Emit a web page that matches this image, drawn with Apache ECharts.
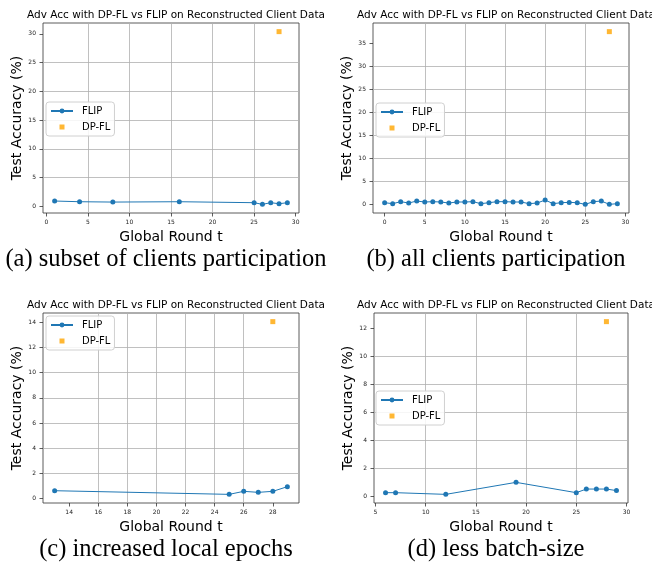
<!DOCTYPE html>
<html>
<head>
<meta charset="utf-8">
<script src="https://cdn.jsdelivr.net/npm/echarts@6/dist/echarts.min.js"></script>
<style>html,body{margin:0;padding:0;background:#fff}#c{width:652px;height:570px}</style>
</head>
<body>
<div id="c"></div>
<script>
// ---- data ----
const chartTitle = 'Adv Acc with DP-FL vs FLIP on Reconstructed Client Data';
const captions = ['(a) subset of clients participation', '(b) all clients participation', '(c) increased local epochs', '(d) less batch-size'];

const aRounds = [1, 4, 8, 16, 25, 26, 27, 28, 29];
const aFlip = [0.93, 0.81, 0.75, 0.81, 0.64, 0.35, 0.64, 0.46, 0.64];
const aDpRound = [28];
const aDp = [30.4];

const bRounds = [0,1,2,3,4,5,6,7,8,9,10,11,12,13,14,15,16,17,18,19,20,21,22,23,24,25,26,27,28,29];
const bFlip = [0.43,0.22,0.65,0.36,0.79,0.58,0.65,0.58,0.36,0.58,0.58,0.65,0.22,0.43,0.65,0.65,0.58,0.58,0.22,0.36,1.0,0.22,0.43,0.5,0.43,0.07,0.65,0.79,0.07,0.22];
const bDpRound = [28];
const bDp = [37.45];

const cRounds = [13, 25, 26, 27, 28, 29];
const cFlip = [0.63, 0.34, 0.58, 0.5, 0.58, 0.95];
const cDpRound = [28];
const cDp = [14.05];

const dRounds = [6, 7, 12, 19, 25, 26, 27, 28, 29];
const dFlip = [0.26, 0.26, 0.14, 1.0, 0.26, 0.52, 0.52, 0.52, 0.41];
const dDpRound = [28];
const dDp = [12.5];

const xTicks = [[0,5,10,15,20,25,30],[0,5,10,15,20,25,30],[14,16,18,20,22,24,26,28],[5,10,15,20,25,30]];
const yTicks = [[0,5,10,15,20,25,30],[0,5,10,15,20,25,30,35],[0,2,4,6,8,10,12,14],[0,2,4,6,8,10,12]];

// ---- layout ----
const panels = [
  {rounds: aRounds, flip: aFlip, dpR: aDpRound, dp: aDp, left: 43, top: 23, width: 256, height: 190, legTop: 102, legLeft: 46, xSplit: 6, ySplit: 7},
  {rounds: bRounds, flip: bFlip, dpR: bDpRound, dp: bDp, left: 373, top: 23, width: 256, height: 190, legTop: 103, legLeft: 376, xSplit: 6, ySplit: 8},
  {rounds: cRounds, flip: cFlip, dpR: cDpRound, dp: cDp, left: 43, top: 313, width: 256, height: 190, legTop: 316, legLeft: 46, xSplit: 8, ySplit: 7},
  {rounds: dRounds, flip: dFlip, dpR: dDpRound, dp: dDp, left: 374, top: 313, width: 254, height: 190, legTop: 391, legLeft: 376, xSplit: 5, ySplit: 7}
];
const FONT = 'DejaVu Sans';
const BLUE = '#1f77b4', ORANGE = '#ffa500';
const SQUARE_ICON = 'path://M0,0M22,6M8.5,0.5h5v5h-5z';

function range(vals) {
  const mn = Math.min(...vals), mx = Math.max(...vals);
  const m = (mx - mn) * 0.05;
  return [mn - m, mx + m];
}

const grid = [], xAxis = [], yAxis = [], series = [], title = [], legend = [], graphic = [];
panels.forEach((p, i) => {
  grid.push({left: p.left, top: p.top, width: p.width, height: p.height, show: true, borderColor: '#333', borderWidth: 0.8, backgroundColor: 'transparent', containLabel: false});
  const xr = range(p.rounds.concat(p.dpR));
  const yr = range(p.flip.concat(p.dp));
  const common = {
    axisLine: {show: false, onZero: false},
    axisTick: {show: true, length: 3.5, inside: false, lineStyle: {color: '#333', width: 0.8}},
    splitLine: {show: true, showMinLine: false, showMaxLine: false, lineStyle: {color: '#b0b0b0', width: 0.8}},
    nameTextStyle: {fontFamily: FONT, fontSize: 14, color: '#000'}
  };
  xAxis.push(Object.assign({}, common, {
    type: 'value', gridIndex: i, min: xr[0], max: xr[1], splitNumber: p.xSplit, position: 'bottom',
    name: 'Global Round t', nameLocation: 'middle', nameGap: 17,
    axisTick: Object.assign({}, common.axisTick, {customValues: xTicks[i]}),
    axisLabel: {customValues: xTicks[i], fontFamily: FONT, fontSize: 6, color: '#222', margin: 6}
  }));
  yAxis.push(Object.assign({}, common, {
    type: 'value', gridIndex: i, min: yr[0], max: yr[1], splitNumber: p.ySplit, position: 'left',
    name: 'Test Accuracy (%)', nameLocation: 'middle', nameGap: 12,
    axisTick: Object.assign({}, common.axisTick, {customValues: yTicks[i]}),
    axisLabel: {customValues: yTicks[i], fontFamily: FONT, fontSize: 6, color: '#222', margin: 7}
  }));
  series.push({
    name: 'FLIP', type: 'line', xAxisIndex: i, yAxisIndex: i,
    data: p.rounds.map((r, k) => [r, p.flip[k]]),
    symbol: 'circle', symbolSize: 5, showAllSymbol: true,
    lineStyle: {color: BLUE, width: 1}, itemStyle: {color: BLUE}, animation: false
  });
  series.push({
    name: 'DP-FL', type: 'scatter', xAxisIndex: i, yAxisIndex: i,
    data: p.dpR.map((r, k) => [r, p.dp[k]]),
    symbol: 'rect', symbolSize: 5, itemStyle: {color: ORANGE}, animation: false
  });
  title.push({
    text: chartTitle, left: p.left + p.width / 2, top: p.top - 18, textAlign: 'center',
    textStyle: {fontFamily: FONT, fontSize: 10.5, fontWeight: 'normal', color: '#000'}
  });
  legend.push({
    orient: 'vertical', left: p.legLeft, top: p.legTop,
    data: [{name: 'FLIP'}, {name: 'DP-FL', icon: SQUARE_ICON}],
    itemWidth: 22, itemHeight: 6, itemGap: 4,
    padding: [3, 4, 3, 4],
    backgroundColor: 'rgba(255,255,255,0.85)', borderColor: '#d0d0d0', borderWidth: 1, borderRadius: 3,
    textStyle: {fontFamily: FONT, fontSize: 10, color: '#000', padding: [0, 0, 0, 4], lineHeight: 12},
    selectedMode: false
  });
  graphic.push({
    type: 'text', z: 10,
    x: p.left + p.width / 2 - 5, y: p.top + p.height + 47,
    style: {text: captions[i], fontFamily: 'Liberation Serif', fontSize: 24.5, fill: '#000', textAlign: 'center', textVerticalAlign: 'middle'}
  });
});

const chart = echarts.init(document.getElementById('c'), null, {renderer: 'canvas'});
chart.setOption({animation: false, title, grid, xAxis, yAxis, series, legend, graphic});
</script>
</body>
</html>
